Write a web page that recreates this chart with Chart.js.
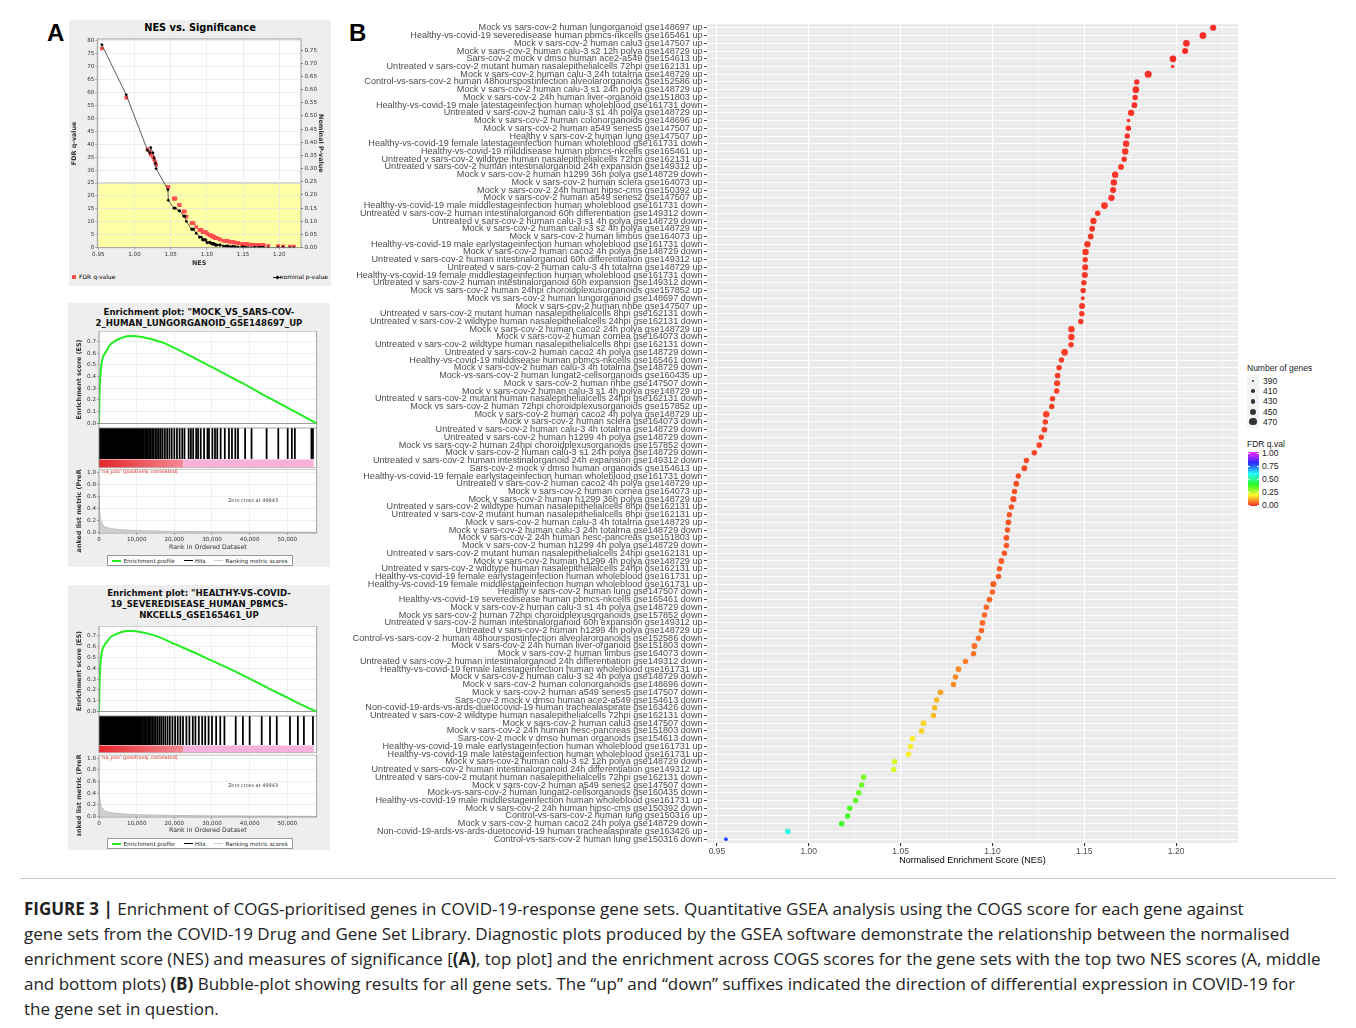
<!DOCTYPE html>
<html lang="en">
<head>
<meta charset="UTF-8" />
<title>Figure 3 | COGS enrichment in COVID-19 gene sets</title>
<script src="https://cdn.jsdelivr.net/npm/chart.js"></script>
<style>
  body { margin: 0; background: #fff; font-family: 'Liberation Sans', Arial, sans-serif; }
  #page { position: relative; width: 1356px; height: 1028px; overflow: hidden; background: #fff; }
  canvas { position: absolute; }
  .abs { position: absolute; white-space: nowrap; }
  .letter { position: absolute; font: bold 24px 'Liberation Sans', Arial, sans-serif; color: #000; }
  .gsea-box { position: absolute; background: #eeeeee; }
  .gsea-title { position: absolute; left: 0; width: 262px; text-align: center; font: bold 8.6px 'DejaVu Sans', sans-serif; line-height: 11px; color: #111; }
  .tiny { font: 5.6px 'DejaVu Sans', sans-serif; color: #222; }
  .gsea-legend { position: absolute; left: 39px; width: 184px; height: 9px; background: #fff; border: 1px solid #999; display: flex; align-items: center; justify-content: space-around; }
  .swatch { display: inline-block; width: 9px; height: 0; vertical-align: middle; margin-right: 2px; }
  .caption { position: absolute; left: 24px; top: 896px; font: 17px/25px 'Open Sans', 'Noto Sans', sans-serif; color: #222; white-space: nowrap; }
  .legend-b { font: 8.5px 'Liberation Sans', Arial, sans-serif; color: #222; }
</style>
</head>
<body>
<div id="page">
  <div class="letter" style="left:47px; top:19px;">A</div>
  <div class="letter" style="left:349px; top:19px;">B</div>

  <!-- Panel A, top: NES vs significance -->
  <div class="gsea-box" style="left:69px; top:20px; width:262px; height:266px;"></div>
  <div class="abs" style="left:69px; top:22px; width:262px; text-align:center; font: bold 9.8px 'DejaVu Sans', sans-serif;">NES vs. Significance</div>
  <div class="abs" style="left:72px; top:273px; font: 6px 'DejaVu Sans', sans-serif;"><span style="display:inline-block;width:4px;height:4px;background:#ff4f4f;vertical-align:middle;margin-right:3px;"></span>FDR q-value</div>
  <div class="abs" style="left:260px; top:273px; width:68px; text-align:right; font: 6px 'DejaVu Sans', sans-serif;"><span style="display:inline-block;width:9px;border-top:1px solid #222;vertical-align:middle;"></span><span style="display:inline-block;width:3px;height:3px;background:#000;transform:rotate(45deg);vertical-align:middle;margin:0 -1px 0 -6px;"></span> nominal p-value</div>

  <!-- Panel A, middle -->
  <div class="gsea-box" style="left:68px; top:303px; width:262px; height:264px;">
    <div class="gsea-title" style="top:4px;">Enrichment plot: "MOCK_VS_SARS-COV-<br>2_HUMAN_LUNGORGANOID_GSE148697_UP</div>
  </div>
  <!-- Panel A, bottom -->
  <div class="gsea-box" style="left:68px; top:585px; width:262px; height:265px;">
    <div class="gsea-title" style="top:3px;">Enrichment plot: "HEALTHY-VS-COVID-<br>19_SEVEREDISEASE_HUMAN_PBMCS-<br>NKCELLS_GSE165461_UP</div>
  </div>

  <!-- Panel B legends -->
  <div class="abs legend-b" style="left:1247px; top:363px;">Number of genes</div>
  <div id="sizeLegend"></div>
  <div class="abs legend-b" style="left:1247px; top:439px;">FDR q.val</div>
  <div id="fdrBar" class="abs" style="left:1248px; top:452px; width:11px; height:54px;"></div>
  <div id="fdrLegend"></div>

  <div class="abs" style="left:20px; top:878px; width:1316px; height:0; border-top:1px solid #c8c8c8;"></div>
  <div class="caption"><b>FIGURE 3 |</b> Enrichment of COGS-prioritised genes in COVID-19-response gene sets. Quantitative GSEA analysis using the COGS score for each gene against<br>gene sets from the COVID-19 Drug and Gene Set Library. Diagnostic plots produced by the GSEA software demonstrate the relationship between the normalised<br>enrichment score (NES) and measures of significance [<b>(A)</b>, top plot] and the enrichment across COGS scores for the gene sets with the top two NES scores (A, middle<br>and bottom plots) <b>(B)</b> Bubble-plot showing results for all gene sets. The “up” and “down” suffixes indicated the direction of differential expression in COVID-19 for<br>the gene set in question.</div>
</div>

<script>
// ---------- Panel B: one entry per gene set, top to bottom ----------
const geneSetLabels = [
  'Mock vs sars-cov-2 human lungorganoid gse148697 up',
  'Healthy-vs-covid-19 severedisease human pbmcs-nkcells gse165461 up',
  'Mock v sars-cov-2 human calu3 gse147507 up',
  'Mock v sars-cov-2 human calu-3 s2 12h polya gse148729 up',
  'Sars-cov-2 mock v dmso human ace2-a549 gse154613 up',
  'Untreated v sars-cov-2 mutant human nasalepithelialcells 72hpi gse162131 up',
  'Mock v sars-cov-2 human calu-3 24h totalrna gse148729 up',
  'Control-vs-sars-cov-2 human 48hourspostinfection alveolarorganoids gse152586 up',
  'Mock v sars-cov-2 human calu-3 s1 24h polya gse148729 up',
  'Mock v sars-cov-2 24h human liver-organoid gse151803 up',
  // 11
  'Healthy-vs-covid-19 male latestageinfection human wholeblood gse161731 down',
  'Untreated v sars-cov-2 human calu-3 s1 4h polya gse148729 up',
  'Mock v sars-cov-2 human colonorganoids gse148696 up',
  'Mock v sars-cov-2 human a549 series5 gse147507 up',
  'Healthy v sars-cov-2 human lung gse147507 up',
  'Healthy-vs-covid-19 female latestageinfection human wholeblood gse161731 down',
  'Healthy-vs-covid-19 milddisease human pbmcs-nkcells gse165461 up',
  'Untreated v sars-cov-2 wildtype human nasalepithelialcells 72hpi gse162131 up',
  'Untreated v sars-cov-2 human intestinalorganoid 24h expansion gse149312 up',
  'Mock v sars-cov-2 human h1299 36h polya gse148729 down',
  // 21
  'Mock v sars-cov-2 human sclera gse164073 up',
  'Mock v sars-cov-2 24h human hipsc-cms gse150392 up',
  'Mock v sars-cov-2 human a549 series2 gse147507 up',
  'Healthy-vs-covid-19 male middlestageinfection human wholeblood gse161731 down',
  'Untreated v sars-cov-2 human intestinalorganoid 60h differentiation gse149312 down',
  'Untreated v sars-cov-2 human calu-3 s1 4h polya gse148729 down',
  'Mock v sars-cov-2 human calu-3 s2 4h polya gse148729 up',
  'Mock v sars-cov-2 human limbus gse164073 up',
  'Healthy-vs-covid-19 male earlystageinfection human wholeblood gse161731 down',
  'Mock v sars-cov-2 human caco2 4h polya gse148729 down',
  // 31
  'Untreated v sars-cov-2 human intestinalorganoid 60h differentiation gse149312 up',
  'Untreated v sars-cov-2 human calu-3 4h totalrna gse148729 up',
  'Healthy-vs-covid-19 female middlestageinfection human wholeblood gse161731 down',
  'Untreated v sars-cov-2 human intestinalorganoid 60h expansion gse149312 down',
  'Mock vs sars-cov-2 human 24hpi choroidplexusorganoids gse157852 up',
  'Mock vs sars-cov-2 human lungorganoid gse148697 down',
  'Mock v sars-cov-2 human nhbe gse147507 up',
  'Untreated v sars-cov-2 mutant human nasalepithelialcells 8hpi gse162131 down',
  'Untreated v sars-cov-2 wildtype human nasalepithelialcells 24hpi gse162131 down',
  'Mock v sars-cov-2 human caco2 24h polya gse148729 up',
  // 41
  'Mock v sars-cov-2 human cornea gse164073 down',
  'Untreated v sars-cov-2 wildtype human nasalepithelialcells 8hpi gse162131 down',
  'Untreated v sars-cov-2 human caco2 4h polya gse148729 down',
  'Healthy-vs-covid-19 milddisease human pbmcs-nkcells gse165461 down',
  'Mock v sars-cov-2 human calu-3 4h totalrna gse148729 down',
  'Mock-vs-sars-cov-2 human lungat2-cellsorganoids gse160435 up',
  'Mock v sars-cov-2 human nhbe gse147507 down',
  'Mock v sars-cov-2 human calu-3 s1 4h polya gse148729 up',
  'Untreated v sars-cov-2 mutant human nasalepithelialcells 24hpi gse162131 down',
  'Mock vs sars-cov-2 human 72hpi choroidplexusorganoids gse157852 up',
  // 51
  'Mock v sars-cov-2 human caco2 4h polya gse148729 up',
  'Mock v sars-cov-2 human sclera gse164073 down',
  'Untreated v sars-cov-2 human calu-3 4h totalrna gse148729 down',
  'Untreated v sars-cov-2 human h1299 4h polya gse148729 down',
  'Mock vs sars-cov-2 human 24hpi choroidplexusorganoids gse157852 down',
  'Mock v sars-cov-2 human calu-3 s1 24h polya gse148729 down',
  'Untreated v sars-cov-2 human intestinalorganoid 24h expansion gse149312 down',
  'Sars-cov-2 mock v dmso human organoids gse154613 up',
  'Healthy-vs-covid-19 female earlystageinfection human wholeblood gse161731 down',
  'Untreated v sars-cov-2 human caco2 4h polya gse148729 up',
  // 61
  'Mock v sars-cov-2 human cornea gse164073 up',
  'Mock v sars-cov-2 human h1299 36h polya gse148729 up',
  'Untreated v sars-cov-2 wildtype human nasalepithelialcells 8hpi gse162131 up',
  'Untreated v sars-cov-2 mutant human nasalepithelialcells 8hpi gse162131 up',
  'Mock v sars-cov-2 human calu-3 4h totalrna gse148729 up',
  'Mock v sars-cov-2 human calu-3 24h totalrna gse148729 down',
  'Mock v sars-cov-2 24h human hesc-pancreas gse151803 up',
  'Mock v sars-cov-2 human h1299 4h polya gse148729 down',
  'Untreated v sars-cov-2 mutant human nasalepithelialcells 24hpi gse162131 up',
  'Mock v sars-cov-2 human h1299 4h polya gse148729 up',
  // 71
  'Untreated v sars-cov-2 wildtype human nasalepithelialcells 24hpi gse162131 up',
  'Healthy-vs-covid-19 female earlystageinfection human wholeblood gse161731 up',
  'Healthy-vs-covid-19 female middlestageinfection human wholeblood gse161731 up',
  'Healthy v sars-cov-2 human lung gse147507 down',
  'Healthy-vs-covid-19 severedisease human pbmcs-nkcells gse165461 down',
  'Mock v sars-cov-2 human calu-3 s1 4h polya gse148729 down',
  'Mock vs sars-cov-2 human 72hpi choroidplexusorganoids gse157852 down',
  'Untreated v sars-cov-2 human intestinalorganoid 60h expansion gse149312 up',
  'Untreated v sars-cov-2 human h1299 4h polya gse148729 up',
  'Control-vs-sars-cov-2 human 48hourspostinfection alveolarorganoids gse152586 down',
  // 81
  'Mock v sars-cov-2 24h human liver-organoid gse151803 down',
  'Mock v sars-cov-2 human limbus gse164073 down',
  'Untreated v sars-cov-2 human intestinalorganoid 24h differentiation gse149312 down',
  'Healthy-vs-covid-19 female latestageinfection human wholeblood gse161731 up',
  'Mock v sars-cov-2 human calu-3 s2 4h polya gse148729 down',
  'Mock v sars-cov-2 human colonorganoids gse148696 down',
  'Mock v sars-cov-2 human a549 series5 gse147507 down',
  'Sars-cov-2 mock v dmso human ace2-a549 gse154613 down',
  'Non-covid-19-ards-vs-ards-duetocovid-19 human trachealaspirate gse163426 down',
  'Untreated v sars-cov-2 wildtype human nasalepithelialcells 72hpi gse162131 down',
  // 91
  'Mock v sars-cov-2 human calu3 gse147507 down',
  'Mock v sars-cov-2 24h human hesc-pancreas gse151803 down',
  'Sars-cov-2 mock v dmso human organoids gse154613 down',
  'Healthy-vs-covid-19 male earlystageinfection human wholeblood gse161731 up',
  'Healthy-vs-covid-19 male latestageinfection human wholeblood gse161731 up',
  'Mock v sars-cov-2 human calu-3 s2 12h polya gse148729 down',
  'Untreated v sars-cov-2 human intestinalorganoid 24h differentiation gse149312 up',
  'Untreated v sars-cov-2 mutant human nasalepithelialcells 72hpi gse162131 down',
  'Mock v sars-cov-2 human a549 series2 gse147507 down',
  'Mock-vs-sars-cov-2 human lungat2-cellsorganoids gse160435 down',
  // 101
  'Healthy-vs-covid-19 male middlestageinfection human wholeblood gse161731 up',
  'Mock v sars-cov-2 24h human hipsc-cms gse150392 down',
  'Control-vs-sars-cov-2 human lung gse150316 up',
  'Mock v sars-cov-2 human caco2 24h polya gse148729 down',
  'Non-covid-19-ards-vs-ards-duetocovid-19 human trachealaspirate gse163426 up',
  'Control-vs-sars-cov-2 human lung gse150316 down'
];

const nesValues = [
  1.2202, 1.2146, 1.2056, 1.2049, 1.1983, 1.1981, 1.1848, 1.1786, 1.1781, 1.1777,
  1.1773, 1.1755, 1.1741, 1.1740, 1.1734, 1.1728, 1.1723, 1.1717, 1.1700, 1.1668,
  1.1661, 1.1657, 1.1648, 1.1610, 1.1573, 1.1550, 1.1543, 1.1535, 1.1517, 1.1507,
  1.1505, 1.1505, 1.1503, 1.1498, 1.1494, 1.1492, 1.1488, 1.1487, 1.1481, 1.1430,
  1.1430, 1.1428, 1.1393, 1.1376, 1.1363, 1.1355, 1.1352, 1.1350, 1.1327, 1.1323,
  1.1293, 1.1288, 1.1283, 1.1266, 1.1255, 1.1228, 1.1185, 1.1174, 1.1141, 1.1130,
  1.1120, 1.1114, 1.1103, 1.1092, 1.1087, 1.1082, 1.1076, 1.1076, 1.1065, 1.1049,
  1.1038, 1.1033, 1.1005, 1.1000, 1.0984, 1.0967, 1.0957, 1.0946, 1.0940, 1.0924,
  1.0902, 1.0897, 1.0853, 1.0815, 1.0799, 1.0788, 1.0717, 1.0696, 1.0685, 1.0679,
  1.0625, 1.0614, 1.0565, 1.0554, 1.0543, 1.0467, 1.0462, 1.0299, 1.0288, 1.0272,
  1.0255, 1.0223, 1.0212, 1.0179, 0.9886, 0.9549
];

const fdrValues = [
  0.004, 0.004, 0.004, 0.004, 0.005, 0.005, 0.007, 0.009, 0.009, 0.009,
  0.009, 0.009, 0.010, 0.010, 0.010, 0.010, 0.010, 0.010, 0.010, 0.011,
  0.011, 0.011, 0.011, 0.012, 0.013, 0.014, 0.014, 0.014, 0.014, 0.015,
  0.015, 0.015, 0.015, 0.015, 0.015, 0.015, 0.015, 0.015, 0.015, 0.018,
  0.018, 0.018, 0.020, 0.020, 0.020, 0.022, 0.022, 0.022, 0.022, 0.022,
  0.025, 0.025, 0.025, 0.027, 0.027, 0.027, 0.032, 0.032, 0.037, 0.037,
  0.037, 0.037, 0.042, 0.042, 0.042, 0.042, 0.045, 0.045, 0.045, 0.049,
  0.049, 0.049, 0.055, 0.055, 0.060, 0.060, 0.060, 0.060, 0.060, 0.069,
  0.069, 0.069, 0.080, 0.095, 0.095, 0.095, 0.120, 0.140, 0.140, 0.140,
  0.165, 0.165, 0.190, 0.190, 0.190, 0.235, 0.235, 0.320, 0.330, 0.340,
  0.350, 0.360, 0.370, 0.380, 0.580, 0.770
];

const nominalPValues = [
  0, 0, 0, 0, 0, 0, 0, 0, 0, 0,
  0, 0, 0, 0, 0, 0, 0, 0, 0, 0,
  0, 0, 0, 0, 0, 0, 0, 0, 0, 0,
  0.002, 0.002, 0.002, 0.002, 0.002, 0.002, 0.002, 0.002, 0.002, 0.002,
  0.002, 0.002, 0.004, 0.004, 0.004, 0.004, 0.004, 0.004, 0.004, 0.004,
  0.006, 0.006, 0.006, 0.006, 0.006, 0.006, 0.010, 0.010, 0.010, 0.010,
  0.010, 0.010, 0.015, 0.015, 0.015, 0.015, 0.015, 0.015, 0.015, 0.020,
  0.020, 0.020, 0.020, 0.020, 0.030, 0.030, 0.030, 0.030, 0.030, 0.040,
  0.040, 0.040, 0.055, 0.070, 0.070, 0.070, 0.100, 0.120, 0.120, 0.120,
  0.140, 0.140, 0.150, 0.150, 0.150, 0.180, 0.220, 0.300, 0.320, 0.340,
  0.360, 0.380, 0.360, 0.370, 0.580, 0.770
];

const geneCounts = [
  450, 460, 460, 450, 460, 405, 465, 440, 460, 440,
  445, 455, 410, 440, 440, 455, 455, 440, 445, 455,
  455, 450, 455, 460, 440, 455, 445, 445, 455, 455,
  440, 450, 450, 440, 440, 415, 450, 440, 440, 455,
  455, 440, 460, 440, 440, 445, 450, 440, 440, 440,
  455, 440, 445, 440, 445, 440, 440, 445, 440, 445,
  440, 450, 440, 440, 445, 440, 445, 440, 440, 445,
  440, 440, 450, 440, 445, 440, 440, 445, 440, 440,
  445, 440, 440, 445, 440, 440, 445, 440, 440, 440,
  445, 440, 440, 440, 440, 440, 440, 440, 440, 440,
  440, 440, 440, 440, 440, 415
];

const nesAxisTicks = [0.95, 1.00, 1.05, 1.10, 1.15, 1.20];
const sizeLegendCounts = [390, 410, 430, 450, 470];
const fdrLegendTicks = [1.00, 0.75, 0.50, 0.25, 0.00];

// ---------- Panel A ----------
const fdrAxisTicks = [0, 5, 10, 15, 20, 25, 30, 35, 40, 45, 50, 55, 60, 65, 70, 75, 80];
const pAxisTicks = [0, 0.05, 0.10, 0.15, 0.20, 0.25, 0.30, 0.35, 0.40, 0.45, 0.50, 0.55, 0.60, 0.65, 0.70, 0.75];
const nesAxisTicksA = [0.95, 1.00, 1.05, 1.10, 1.15, 1.20];
const fdrCutoff = 25;

const rankAxisTicks = [0, 10000, 20000, 30000, 40000, 50000];
const esAxisTicks = [0.0, 0.1, 0.2, 0.3, 0.4, 0.5, 0.6, 0.7];
const metricAxisTicks = [0.0, 0.2, 0.4, 0.6, 0.8, 1.0];
const rankedListSize = 57800;
const positiveRegionEnd = 22400;
const zeroCrossRank = 49943;

// running enrichment score, lung organoid set
const lungRanks  = [0, 90, 350, 700, 1400, 2000, 2900, 4250, 5600, 7350, 8700, 10300, 12000, 14000, 17000, 20000, 25000, 30000, 35000, 40000, 45000, 50000, 54000, 57800];
const lungES     = [0, 0.20, 0.40, 0.52, 0.59, 0.62, 0.67, 0.705, 0.725, 0.745, 0.748, 0.742, 0.735, 0.72, 0.69, 0.645, 0.565, 0.48, 0.395, 0.31, 0.22, 0.135, 0.065, 0];
const lungHits = [
  0, 120, 260, 380, 520, 650, 800, 930, 1080, 1220, 1370, 1500, 1650, 1790, 1930, 2080, 2220, 2370, 2510, 2660,
  2800, 2950, 3100, 3240, 3400, 3550, 3700, 3860, 4000, 4160, 4320, 4470, 4640, 4800, 4960, 5130, 5300, 5460, 5640, 5800,
  5980, 6150, 6340, 6520, 6700, 6900, 7080, 7280, 7470, 7680, 7880, 8090, 8300, 8520, 8740, 8960, 9200, 9430, 9680, 9930,
  10180, 10450, 10720, 11000, 11300, 11600, 11900, 12250, 12600, 12950, 13300, 13700, 14100, 14500, 14950, 15400, 15900, 16400, 16900, 17500,
  18100, 18700, 19300, 20000, 20700, 21400, 22100, 22700, 23800, 24400, 25000, 25800, 26300, 27000, 27900, 28800, 29200, 30100, 30800, 31400,
  32300, 33400, 34500, 35300, 36200, 36900, 38800, 40500, 44500, 47600, 50100, 51200, 52000, 56400, 56800
];

// running enrichment score, PBMC NK-cell set
const pbmcRanks = [0, 100, 350, 700, 1400, 2200, 3200, 4500, 6000, 7500, 9000, 11000, 13500, 16500, 20000, 25000, 30000, 35000, 40000, 45000, 50000, 54000, 57800];
const pbmcES    = [0, 0.20, 0.42, 0.54, 0.61, 0.65, 0.69, 0.715, 0.735, 0.745, 0.745, 0.735, 0.715, 0.68, 0.625, 0.55, 0.47, 0.39, 0.305, 0.215, 0.13, 0.06, 0];
const pbmcHits = [
  0, 140, 270, 410, 540, 690, 820, 960, 1100, 1250, 1390, 1540, 1680, 1830, 1970, 2120, 2270, 2420, 2560, 2710,
  2860, 3010, 3170, 3320, 3480, 3630, 3790, 3950, 4110, 4270, 4440, 4600, 4770, 4940, 5110, 5290, 5460, 5640, 5820, 6000,
  6190, 6380, 6570, 6770, 6970, 7170, 7380, 7590, 7800, 8020, 8240, 8470, 8700, 8940, 9180, 9430, 9690, 9950, 10220, 10500,
  10790, 11080, 11380, 11700, 12020, 12350, 12700, 13050, 13420, 13800, 14200, 14600, 15050, 15500, 16000, 16500, 17050, 17600, 18200, 18800,
  19500, 20200, 20900, 21600, 22300, 23200, 24000, 24900, 25600, 26500, 27400, 28200, 29100, 30000, 31100, 32200, 33300,
  36300, 38200, 40000, 43200, 45400, 47200, 50700, 52800, 54400, 56800
];

// ranked list metric (same COGS ranking for both plots)
const metricRanks  = [0, 100, 300, 700, 1500, 3000, 6000, 10000, 20000, 30000, 40000, 49943, 57800];
const metricValues = [0.62, 0.38, 0.25, 0.15, 0.09, 0.06, 0.04, 0.025, 0.012, 0.006, 0.003, 0, -0.004];

// ---------- helpers ----------
const radiusFor = n => 1.2 + (n - 390) * 0.031;
const fdrColour = q => `hsl(${(q * 300).toFixed(1)}, 95%, 57%)`;
const fixedTicks = values => scale => { scale.ticks = values.map(v => ({ value: v })); };
const noPad = s => { s.paddingTop = 0; s.paddingBottom = 0; s.paddingLeft = 0; s.paddingRight = 0; };
const fmtRank = v => v.toLocaleString('en-US');
const tinyFont = { family: 'DejaVu Sans', size: 5.6 };
const titleFont = { family: 'DejaVu Sans', size: 6.4, weight: 'bold' };

function makeCanvas(left, top, width, height) {
  const c = document.createElement('canvas');
  c.width = width; c.height = height;
  c.style.left = left + 'px'; c.style.top = top + 'px';
  document.getElementById('page').appendChild(c);
  return c;
}

function areaFill(id, colour) {
  return {
    id,
    beforeDraw(chart) {
      const { ctx, chartArea: a } = chart;
      ctx.save();
      ctx.fillStyle = colour;
      ctx.fillRect(a.left, a.top, a.right - a.left, a.bottom - a.top);
      ctx.restore();
    }
  };
}

const frame = {
  id: 'frame',
  afterDraw(chart) {
    const { ctx, chartArea: a } = chart;
    ctx.save();
    ctx.strokeStyle = '#8a8a8a';
    ctx.lineWidth = 0.8;
    ctx.strokeRect(a.left, a.top, a.right - a.left, a.bottom - a.top);
    ctx.restore();
  }
};

Chart.defaults.animation = false;
Chart.defaults.responsive = false;
Chart.defaults.plugins.legend.display = false;
Chart.defaults.plugins.tooltip.enabled = false;

// ---------- Panel B bubble plot ----------
const nesMajor = v => nesAxisTicks.some(t => Math.abs(t - v) < 1e-6);
const nesGrid = nesAxisTicks.flatMap(v => [v, +(v + 0.025).toFixed(3)]);

const bubbleData = geneSetLabels.map((label, i) => ({ x: nesValues[i], y: label, r: radiusFor(geneCounts[i]) }));

new Chart(makeCanvas(345, 18, 900, 855), {
  type: 'bubble',
  data: {
    datasets: [{
      data: bubbleData,
      backgroundColor: fdrValues.map(fdrColour),
      borderWidth: 0
    }]
  },
  options: {
    layout: { padding: { top: 6, right: 7, left: 0, bottom: 0 } },
    scales: {
      x: {
        type: 'linear', min: 0.9446, max: 1.2337,
        afterBuildTicks: fixedTicks(nesGrid),
        afterFit: s => { s.height = 30; noPad(s); },
        ticks: {
          font: { family: 'Liberation Sans', size: 8.5 }, color: '#4d4d4d', padding: 1, maxRotation: 0,
          callback: v => nesMajor(v) ? v.toFixed(2) : ''
        },
        grid: {
          color: '#ffffff',
          lineWidth: c => nesMajor(c.tick.value) ? 1.1 : 0.5,
          tickLength: 3,
          tickColor: c => nesMajor(c.tick.value) ? '#333333' : 'rgba(0,0,0,0)'
        },
        border: { display: false },
        title: { display: true, text: 'Normalised Enrichment Score (NES)', color: '#000', font: { family: 'Liberation Sans', size: 9 }, padding: { top: 0, bottom: 7.5 } }
      },
      y: {
        type: 'category', labels: geneSetLabels, offset: true,
        afterFit: s => { s.width = 362; noPad(s); },
        ticks: { autoSkip: false, font: { family: 'Liberation Sans', size: 9.1 }, color: '#4d4d4d', padding: 1.5 },
        grid: { color: '#ffffff', lineWidth: 0.9, tickLength: 3, tickColor: '#333333' },
        border: { display: false }
      }
    }
  },
  plugins: [areaFill('bgB', '#ebebeb')]
});

// size and colour legends
(function () {
  let html = '<div class="abs" style="left:1247px;top:375px;width:12px;height:53px;background:#f2f2f2;"></div>';
  sizeLegendCounts.forEach((n, i) => {
    const r = radiusFor(n), cy = 381 + i * 10.2;
    html += `<div class="abs" style="left:${1253 - r}px;top:${cy - r}px;width:${2 * r}px;height:${2 * r}px;border-radius:50%;background:#333;"></div>`;
    html += `<div class="abs legend-b" style="left:1263px;top:${cy - 5}px;">${n}</div>`;
  });
  document.getElementById('sizeLegend').innerHTML = html;

  const stops = [];
  for (let k = 0; k <= 10; k++) stops.push(`${fdrColour(1 - k / 10)} ${k * 10}%`);
  document.getElementById('fdrBar').style.background = `linear-gradient(to bottom, ${stops.join(',')})`;
  let lh = '';
  fdrLegendTicks.forEach(v => {
    const cy = 452 + (1 - v) * 52 + 1;
    lh += `<div class="abs legend-b" style="left:1262px;top:${cy - 5}px;">${v.toFixed(2)}</div>`;
    lh += `<div class="abs" style="left:1248px;top:${cy}px;width:2px;border-top:1px solid #fff;"></div>`;
    lh += `<div class="abs" style="left:1257px;top:${cy}px;width:2px;border-top:1px solid #fff;"></div>`;
  });
  document.getElementById('fdrLegend').innerHTML = lh;
})();

// ---------- Panel A top: NES vs significance ----------
const yellowZone = {
  id: 'yellowZone',
  beforeDraw(chart) {
    const { ctx, chartArea: a, scales } = chart;
    const yTop = scales.yFdr.getPixelForValue(fdrCutoff);
    ctx.save();
    ctx.fillStyle = '#ffffff';
    ctx.fillRect(a.left, a.top, a.right - a.left, a.bottom - a.top);
    ctx.fillStyle = '#ffffa6';
    ctx.fillRect(a.left, yTop, a.right - a.left, a.bottom - yTop);
    ctx.strokeStyle = '#9a9a9a';
    ctx.lineWidth = 0.8;
    ctx.beginPath(); ctx.moveTo(a.left, yTop); ctx.lineTo(a.right, yTop); ctx.stroke();
    ctx.restore();
  }
};

new Chart(makeCanvas(69, 20, 262, 266), {
  type: 'scatter',
  data: {
    datasets: [
      {
        label: 'nominal p-value',
        data: nesValues.map((x, i) => ({ x, y: nominalPValues[i] })),
        yAxisID: 'yP', showLine: true, borderColor: '#333', borderWidth: 0.8,
        pointStyle: 'rectRot', pointRadius: 1.7, pointBackgroundColor: '#000', pointBorderWidth: 0,
        order: 1
      },
      {
        label: 'FDR q-value',
        data: nesValues.map((x, i) => ({ x, y: fdrValues[i] * 100 })),
        yAxisID: 'yFdr',
        pointStyle: 'rect', pointRadius: 2.6, pointBackgroundColor: '#ff4f4f', pointBorderWidth: 0,
        order: 2
      }
    ]
  },
  options: {
    layout: { padding: { top: 19, right: 0, left: 0, bottom: 0 } },
    scales: {
      x: {
        type: 'linear', min: 0.9486, max: 1.23,
        afterBuildTicks: fixedTicks(nesAxisTicksA),
        afterFit: s => { s.height = 38.3; noPad(s); },
        ticks: { font: tinyFont, color: '#333', padding: 1, maxRotation: 0, callback: v => v.toFixed(2) },
        grid: { color: '#e2e2e2', lineWidth: 0.6, tickLength: 2, tickColor: '#777' },
        border: { display: false },
        title: { display: true, text: 'NES', font: titleFont, color: '#333', padding: { top: 0, bottom: 19 } }
      },
      yFdr: {
        type: 'linear', position: 'left', min: 0, max: 80.66,
        afterBuildTicks: fixedTicks(fdrAxisTicks),
        afterFit: s => { s.width = 28.3; noPad(s); },
        ticks: { font: tinyFont, color: '#333', padding: 1 },
        grid: { color: '#e2e2e2', lineWidth: 0.6, tickLength: 2, tickColor: '#777' },
        border: { display: false },
        title: { display: true, text: 'FDR q-value', font: titleFont, color: '#333', padding: { top: 2, bottom: 0 } }
      },
      yP: {
        type: 'linear', position: 'right', min: 0, max: 0.792,
        afterBuildTicks: fixedTicks(pAxisTicks),
        afterFit: s => { s.width = 30; noPad(s); },
        ticks: { font: tinyFont, color: '#333', padding: 1.5, callback: v => v.toFixed(2) },
        grid: { drawOnChartArea: false, tickLength: 2, tickColor: '#777' },
        border: { display: false },
        title: { display: true, text: 'Nominal P-value', font: titleFont, color: '#333', padding: { top: 6.5, bottom: 0 } }
      }
    }
  },
  plugins: [yellowZone, frame]
});

// ---------- Panel A middle / bottom: GSEA enrichment plots ----------
function buildEnrichmentPlot(lay, esRanks, esScores, hitRanks) {
  const left = 68, width = 262, axisW = 31, rightPad = 13.3;
  const xBase = { type: 'linear', min: 0, max: rankedListSize };

  // running enrichment score
  new Chart(makeCanvas(left, lay.esTop, width, lay.esBottom - lay.esTop), {
    type: 'scatter',
    data: { datasets: [{
      data: esRanks.map((x, i) => ({ x, y: esScores[i] })),
      showLine: true, borderColor: '#22ee22', borderWidth: 2, pointRadius: 0, cubicInterpolationMode: 'monotone'
    }] },
    options: {
      layout: { padding: { right: rightPad } },
      scales: {
        x: { ...xBase, afterBuildTicks: fixedTicks(rankAxisTicks), afterFit: s => { s.height = 0; noPad(s); },
             ticks: { display: false }, grid: { color: '#e6e6e6', lineWidth: 0.6, drawTicks: false }, border: { display: false } },
        y: { type: 'linear', min: -0.04, max: 0.79,
             afterBuildTicks: fixedTicks(esAxisTicks), afterFit: s => { s.width = axisW; noPad(s); },
             ticks: { font: tinyFont, color: '#333', padding: 1, callback: v => v.toFixed(1) },
             grid: { color: c => Math.abs(c.tick.value) < 1e-6 ? '#9a9a9a' : '#e6e6e6', lineWidth: c => Math.abs(c.tick.value) < 1e-6 ? 1 : 0.6, tickLength: 2, tickColor: '#777' },
             border: { display: false },
             title: { display: true, text: 'Enrichment score (ES)', font: titleFont, color: '#333', padding: { top: 8, bottom: 0 } } }
      }
    },
    plugins: [areaFill('bgES', '#ffffff'), frame]
  });

  // hits barcode + ranked-list colour band
  const bandH = lay.bandBottom - lay.hitsBottom;
  const band = {
    id: 'band',
    afterDraw(chart) {
      const { ctx, chartArea: a, scales: { x } } = chart;
      const x0 = x.getPixelForValue(0), x1 = x.getPixelForValue(positiveRegionEnd), x2 = x.getPixelForValue(57000);
      const g = ctx.createLinearGradient(x0, 0, x1, 0);
      g.addColorStop(0, '#e3262a'); g.addColorStop(1, '#f58a94');
      ctx.save();
      ctx.fillStyle = '#ffffff';
      ctx.fillRect(a.left, a.bottom, a.right - a.left, bandH);
      ctx.fillStyle = g;
      ctx.fillRect(x0, a.bottom + 0.5, x1 - x0, bandH - 1);
      ctx.fillStyle = '#f7b2dc';
      ctx.fillRect(x1, a.bottom + 0.5, x2 - x1, bandH - 1);
      ctx.strokeStyle = '#8a8a8a'; ctx.lineWidth = 0.8;
      ctx.strokeRect(a.left, a.top, a.right - a.left, a.bottom + bandH - a.top);
      ctx.restore();
    }
  };
  new Chart(makeCanvas(left, lay.esBottom, width, lay.bandBottom - lay.esBottom), {
    type: 'bar',
    data: { datasets: [{
      data: hitRanks.map(x => ({ x, y: [0, 1] })),
      backgroundColor: '#000000', borderWidth: 0, barThickness: 1.1, grouped: false
    }] },
    options: {
      layout: { padding: { left: axisW, right: rightPad, bottom: bandH } },
      scales: {
        x: { ...xBase, offset: false, display: false, grid: { offset: false } },
        y: { type: 'linear', min: 0, max: 1, display: false }
      }
    },
    plugins: [areaFill('bgHits', '#ffffff'), band]
  });

  // ranked list metric
  const notes = {
    id: 'notes',
    afterDatasetsDraw(chart) {
      const { ctx, chartArea: a, scales: { x, y } } = chart;
      ctx.save();
      ctx.font = '5px "DejaVu Sans"';
      ctx.textBaseline = 'top'; ctx.textAlign = 'left'; ctx.fillStyle = '#e0302c';
      ctx.fillText("'na_pos' (positively correlated)", a.left + 2, a.top + 0.5);
      ctx.textBaseline = 'middle'; ctx.textAlign = 'right'; ctx.fillStyle = '#444';
      ctx.fillText('Zero cross at ' + zeroCrossRank, x.getPixelForValue(zeroCrossRank) - 9, y.getPixelForValue(0.53));
      ctx.restore();
    }
  };
  new Chart(makeCanvas(left, lay.metricTop, width, lay.axisBottom - lay.metricTop), {
    type: 'scatter',
    data: { datasets: [{
      data: metricRanks.map((x, i) => ({ x, y: metricValues[i] })),
      showLine: true, fill: 'origin', backgroundColor: '#cfcfcf', borderColor: '#b5b5b5', borderWidth: 0.8, pointRadius: 0
    }] },
    options: {
      layout: { padding: { right: rightPad } },
      scales: {
        x: { ...xBase, afterBuildTicks: fixedTicks(rankAxisTicks), afterFit: s => { s.height = lay.axisBottom - lay.metricBottom; noPad(s); },
             ticks: { font: tinyFont, color: '#333', padding: 1, maxRotation: 0, callback: v => fmtRank(v) },
             grid: { color: '#e6e6e6', lineWidth: 0.6, tickLength: 2, tickColor: '#777' }, border: { display: false },
             title: { display: true, text: 'Rank in Ordered Dataset', font: { family: 'DejaVu Sans', size: 6.3 }, color: '#333', padding: { top: 0, bottom: 2.2 } } },
        y: { type: 'linear', min: -0.015, max: 1.06,
             afterBuildTicks: fixedTicks(metricAxisTicks), afterFit: s => { s.width = axisW; noPad(s); },
             ticks: { font: tinyFont, color: '#333', padding: 1, callback: v => v.toFixed(1) },
             grid: { color: '#e6e6e6', lineWidth: 0.6, tickLength: 2, tickColor: '#777' }, border: { display: false },
             title: { display: true, text: 'Ranked list metric (PreRanked)', font: titleFont, color: '#333', padding: { top: 8, bottom: 0 } } }
      }
    },
    plugins: [areaFill('bgMetric', '#ffffff'), notes, frame]
  });

  // legend strip
  const lg = document.createElement('div');
  lg.innerHTML = `<div class="gsea-legend tiny" style="left:${left + 39}px; top:${lay.legendTop}px;">
      <span><span class="swatch" style="border-top:2px solid #22ee22;"></span>Enrichment profile</span>
      <span><span class="swatch" style="border-top:1px solid #000;"></span>Hits</span>
      <span><span class="swatch" style="border-top:1px solid #ccc;"></span>Ranking metric scores</span></div>`;
  document.getElementById('page').appendChild(lg);
}

buildEnrichmentPlot({ esTop: 331, esBottom: 428, hitsBottom: 459, bandBottom: 468, metricTop: 469, metricBottom: 533, axisBottom: 553, legendTop: 555 },
  lungRanks, lungES, lungHits);
buildEnrichmentPlot({ esTop: 626, esBottom: 716, hitsBottom: 745, bandBottom: 753, metricTop: 755, metricBottom: 817, axisBottom: 836, legendTop: 838 },
  pbmcRanks, pbmcES, pbmcHits);
</script>
</body>
</html>
